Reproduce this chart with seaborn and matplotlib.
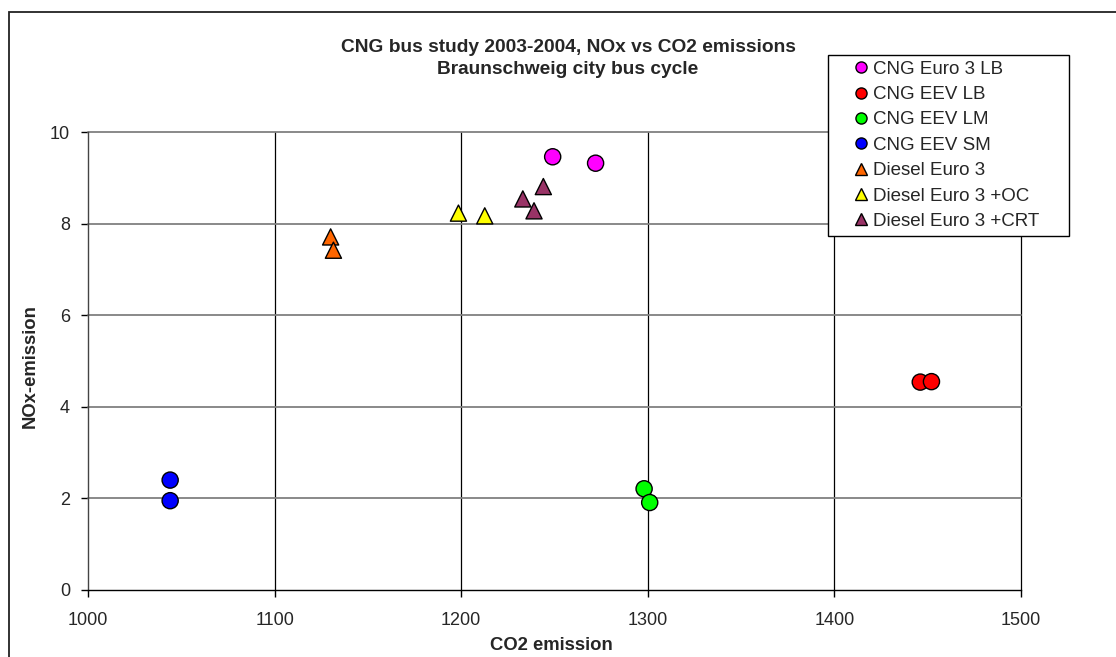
import pandas as pd
import seaborn as sns
import matplotlib.pyplot as plt
from matplotlib.patches import Rectangle

# Values
groups = ['CNG Euro 3 LB', 'CNG EEV LB', 'CNG EEV LM', 'CNG EEV SM',
          'Diesel Euro 3', 'Diesel Euro 3 +OC', 'Diesel Euro 3 +CRT']
co2_euro3_lb = [1249, 1272]
nox_euro3_lb = [9.46, 9.32]
co2_eev_lb = [1446, 1452]
nox_eev_lb = [4.54, 4.55]
co2_eev_lm = [1298, 1301]
nox_eev_lm = [2.21, 1.91]
co2_eev_sm = [1044, 1044]
nox_eev_sm = [2.40, 1.95]
co2_diesel = [1130, 1131.5]
nox_diesel = [7.71, 7.42]
co2_diesel_oc = [1198.5, 1212.6]
nox_diesel_oc = [8.23, 8.17]
co2_diesel_crt = [1244, 1233, 1239]
nox_diesel_crt = [8.81, 8.54, 8.28]

co2 = [co2_euro3_lb, co2_eev_lb, co2_eev_lm, co2_eev_sm, co2_diesel, co2_diesel_oc, co2_diesel_crt]
nox = [nox_euro3_lb, nox_eev_lb, nox_eev_lm, nox_eev_sm, nox_diesel, nox_diesel_oc, nox_diesel_crt]

rows = []
for g, xs, ys in zip(groups, co2, nox):
    for x, y in zip(xs, ys):
        rows.append({'group': g, 'co2': x, 'nox': y})
df = pd.DataFrame(rows)

colors = {'CNG Euro 3 LB': '#FF00FF', 'CNG EEV LB': '#FF0000', 'CNG EEV LM': '#00FF00',
          'CNG EEV SM': '#0000FF', 'Diesel Euro 3': '#FF6600', 'Diesel Euro 3 +OC': '#FFFF00',
          'Diesel Euro 3 +CRT': '#993366'}
markers = {g: ('o' if g.startswith('CNG') else '^') for g in groups}

sns.set_style('white')
plt.rcParams['font.family'] = ['Liberation Sans', 'DejaVu Sans']

fig = plt.figure(figsize=(11.16, 6.57), dpi=100)
ax = fig.add_axes([0.0789, 0.102, 0.836, 0.697])

# outer chart frame (cropped on right and bottom)
fig.patches.append(Rectangle((9 / 1116, -0.1), 1.2, 1 - 12 / 657 + 0.1, transform=fig.transFigure,
                             fill=False, edgecolor='#222222', linewidth=1.3))

sns.scatterplot(data=df, x='co2', y='nox', hue='group', style='group', palette=colors,
                markers=markers, hue_order=groups, style_order=groups, s=135,
                edgecolor='black', linewidth=1, ax=ax, zorder=3, legend=True)

ax.set_xlim(1000, 1500)
ax.set_ylim(0, 10)
ax.set_xticks(range(1000, 1501, 100))
ax.set_yticks(range(0, 11, 2))
for x in range(1100, 1501, 100):
    ax.axvline(x, color='black', linewidth=0.9, zorder=1, clip_on=False)
for y in range(2, 11, 2):
    ax.axhline(y, color='#808080', linewidth=1.3, zorder=1, clip_on=False)

for side in ['top', 'right']:
    ax.spines[side].set_visible(False)
for side in ['left', 'bottom']:
    ax.spines[side].set_color('black')
    ax.spines[side].set_linewidth(1)
ax.spines['left'].set_color('#444444')
ax.tick_params(axis='both', direction='out', length=5, width=1, color='black',
               labelsize=13, bottom=True, left=True)
ax.tick_params(axis='x', pad=11)
ax.tick_params(axis='y', pad=8)

ax.set_xlabel('CO2 emission', fontsize=13.3, fontweight='bold', va='center')
ax.set_ylabel('NOx-emission', fontsize=13.3, fontweight='bold', va='center')
ax.xaxis.set_label_coords(0.497, -0.122)
ax.yaxis.set_label_coords(-0.062, 0.489)

fig.text(568 / 1116, 1 - 47 / 657, 'CNG bus study 2003-2004, NOx vs CO2 emissions',
         ha='center', va='center', fontsize=13.8, fontweight='bold')
fig.text(568 / 1116, 1 - 70 / 657, 'Braunschweig city bus cycle',
         ha='center', va='center', fontsize=13.8, fontweight='bold')

handles, labels = ax.get_legend_handles_labels()
for h in handles:
    h.set_markersize(8)
    h.set_markeredgecolor('black')
    h.set_markeredgewidth(1)
leg = ax.legend(handles, labels, loc='upper left',
                bbox_to_anchor=(828 / 1116, 1 - 234 / 657, 241 / 1116, 179 / 657),
                bbox_transform=fig.transFigure, mode='expand', fontsize=13.5, frameon=True,
                fancybox=False, edgecolor='black', framealpha=1, borderpad=0.3,
                labelspacing=0.44, handletextpad=-0.83, handlelength=2.93, borderaxespad=0)
leg.get_frame().set_linewidth(1)

fig.savefig('out.png', dpi=100)
